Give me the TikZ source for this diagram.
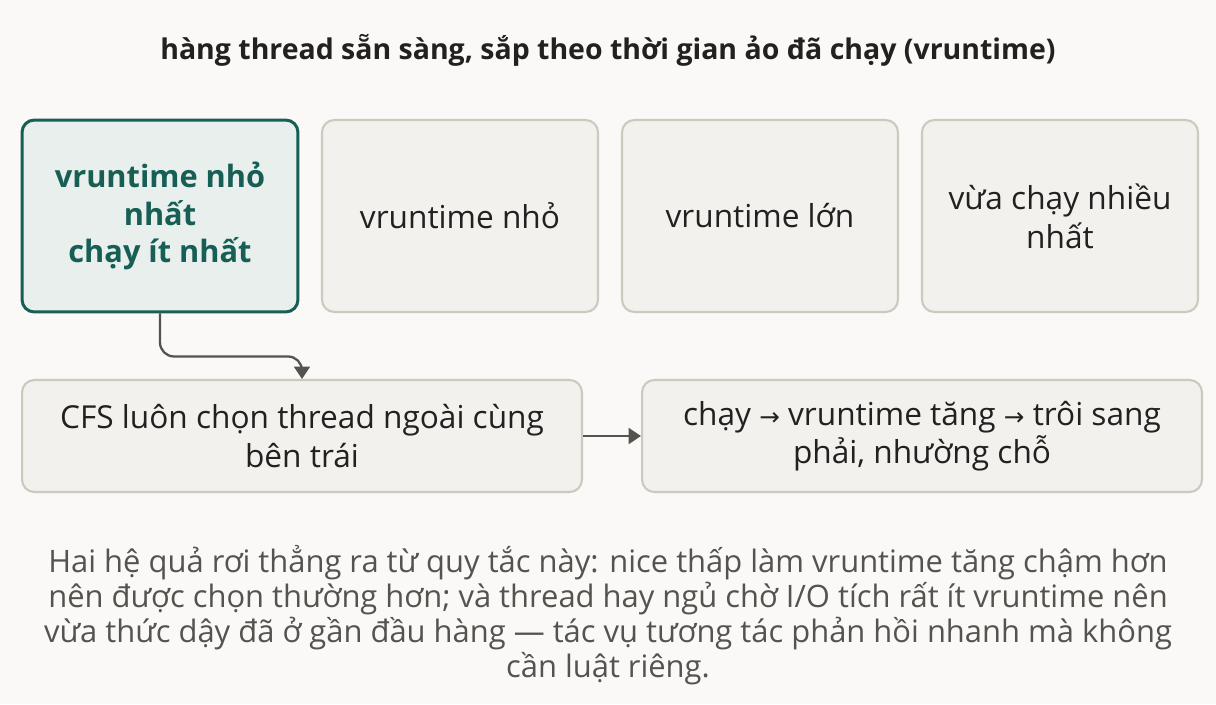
\documentclass[tikz,border=0pt]{standalone}
\usepackage{fontspec}
\setmainfont{Open Sans}
\newfontfamily\kyhieu{DejaVu Sans}
\usetikzlibrary{arrows.meta}
\definecolor{nen}{HTML}{FAF9F7}
\definecolor{xanh}{HTML}{175E55}
\definecolor{xanhnhat}{HTML}{E8EFED}
\definecolor{xam}{HTML}{F2F1EE}
\definecolor{vien}{HTML}{CDC9BF}
\definecolor{muiten}{HTML}{55534E}
\definecolor{chu}{HTML}{222120}
\newcommand\mt{{\kyhieu\fontsize{14}{22}\selectfont →}}
\tikzset{
  hop/.style={draw=vien, fill=xam, line width=1.2pt, rounded corners=7pt, align=center,
    text=chu, font=\fontsize{18}{22}\selectfont, inner sep=0pt},
  hangdoi/.style={hop, minimum width=5.52cm, minimum height=3.84cm},
  dautien/.style={hangdoi, draw=xanh, fill=xanhnhat, text=xanh, line width=1.7pt,
    font=\fontsize{17.5}{21.3}\selectfont\bfseries},
  buoc/.style={hop, minimum width=11.2cm, minimum height=2.24cm},
  muiten/.style={draw=muiten, line width=1.3pt, -{Triangle[length=7pt, width=9pt]}}
}
\begin{document}
\begin{tikzpicture}[x=0.02cm, y=-0.02cm, line join=round]
%Khung nền
\fill[nen] (0,0) rectangle (1216,704);
\useasboundingbox (0,0) rectangle (1216,704);
%Tiêu đề
\node[text=chu, font=\fontsize{16.2}{19}\selectfont\bfseries] (tieude) at (608,50)
  {hàng thread sẵn sàng, sắp theo thời gian ảo đã chạy (vruntime)};
%Hàng đợi
\node[dautien] (nhonhat) at (160,216) {vruntime nhỏ\\nhất\\chạy ít nhất};
\node[hangdoi] (nho) at (460,216) {vruntime nhỏ};
\node[hangdoi] (lon) at (760,216) {vruntime lớn};
\node[hangdoi] (nhieu) at (1060,216) {vừa chạy nhiều\\nhất};
%Các bước
\node[buoc] (chon) at (302,436) {CFS luôn chọn thread ngoài cùng\\bên trái};
\node[buoc] (troi) at (922,436) {chạy \mt{} vruntime tăng \mt{} trôi sang\\phải, nhường chỗ};
%Mũi tên
\draw[muiten, rounded corners=8pt] (nhonhat.south) -- ++(0,43) -| (chon.north);
\draw[muiten] (chon.east) -- (troi.west);
%Ghi chú
\node[text=muiten, align=center, font=\fontsize{17.6}{19.9}\selectfont] (ghichu) at (608,615)
  {Hai hệ quả rơi thẳng ra từ quy tắc này: nice thấp làm vruntime tăng chậm hơn\\
   nên được chọn thường hơn; và thread hay ngủ chờ I/O tích rất ít vruntime nên\\
   vừa thức dậy đã ở gần đầu hàng — tác vụ tương tác phản hồi nhanh mà không\\
   cần luật riêng.};
\end{tikzpicture}
\end{document}
